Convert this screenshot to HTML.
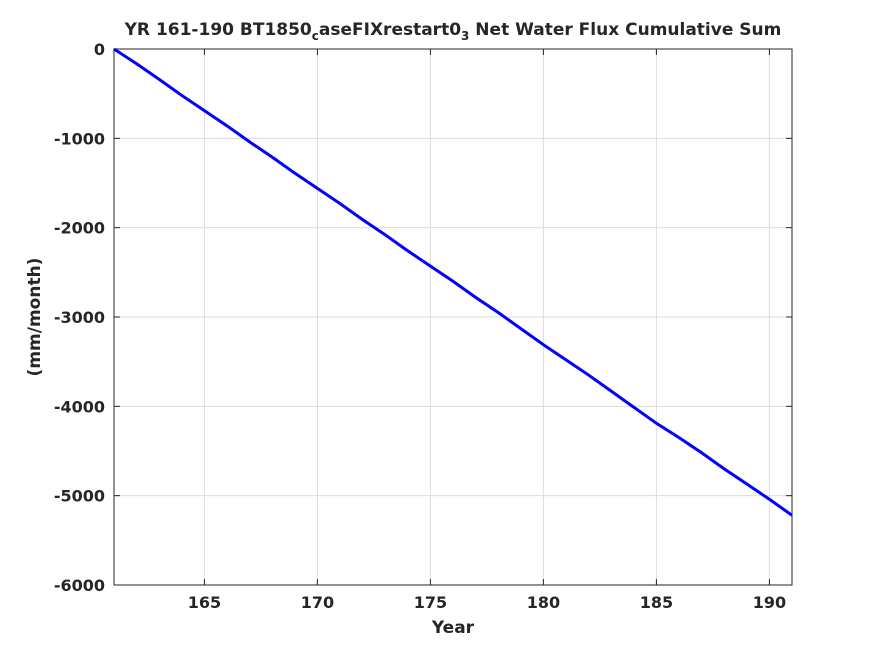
<!DOCTYPE html>
<html><head><meta charset="utf-8"><style>
body{margin:0;background:#fff;}
svg text{font-family:"DejaVu Sans","Liberation Sans",sans-serif;font-weight:bold;fill:#262626;}
</style></head><body>
<svg id="chart" width="875" height="656" xmlns="http://www.w3.org/2000/svg">
<rect width="875" height="656" fill="#fff"/>
<g id="grid"></g>
<g id="axes"></g>
<polyline id="line" fill="none" stroke="#0000ff" stroke-width="3"/>
<text x="453" y="35" font-size="17" text-anchor="middle">YR 161-190 BT1850<tspan font-size="12" dy="5">c</tspan><tspan dy="-5">aseFIXrestart0</tspan><tspan font-size="12" dy="5">3</tspan><tspan dy="-5"> Net Water Flux Cumulative Sum</tspan></text>
<text x="453" y="633" font-size="17" text-anchor="middle">Year</text>
<text x="40" y="317" font-size="17" text-anchor="middle" transform="rotate(-90 40 317)">(mm/month)</text>
</svg>
<script>
const years=[161,162,163,164,165,166,167,168,169,170,171,172,173,174,175,176,177,178,179,180,181,182,183,184,185,186,187,188,189,190,191];
const values=[0,-165,-340,-520,-690,-860,-1040,-1210,-1390,-1560,-1730,-1910,-2080,-2260,-2430,-2600,-2780,-2950,-3130,-3310,-3480,-3650,-3830,-4010,-4190,-4350,-4520,-4700,-4870,-5040,-5220];
const xTicks=[165,170,175,180,185,190];
const yTicks=[0,-1000,-2000,-3000,-4000,-5000,-6000];
const L=114,R=792,T=49,B=585;
const xs=v=>L+(v-161)/(191-161)*(R-L);
const ys=v=>T+(0-v)/6000*(B-T);
const NS="http://www.w3.org/2000/svg";
const grid=document.getElementById('grid'),axes=document.getElementById('axes');
function mk(tag,attrs,parent){const e=document.createElementNS(NS,tag);for(const k in attrs)e.setAttribute(k,attrs[k]);parent.appendChild(e);return e;}
xTicks.forEach(t=>{const x=xs(t);
 const g=mk('line',{x1:x,x2:x,y1:T,y2:B,stroke:'#dcdcdc','stroke-width':1},grid);
 
 
 mk('line',{x1:x,x2:x,y1:B,y2:B-6,stroke:'#262626'},axes);
 mk('line',{x1:x,x2:x,y1:T,y2:T+6,stroke:'#262626'},axes);
 const tx=mk('text',{x:x,y:B+23,'font-size':16,'text-anchor':'middle'},axes);tx.textContent=t;
 
 
});
yTicks.forEach(t=>{const y=ys(t);
 const g=mk('line',{x1:L,x2:R,y1:y,y2:y,stroke:'#dcdcdc','stroke-width':1},grid);
 
 
 mk('line',{x1:L,x2:L+6,y1:y,y2:y,stroke:'#262626'},axes);
 mk('line',{x1:R,x2:R-6,y1:y,y2:y,stroke:'#262626'},axes);
 const tx=mk('text',{x:L-9,y:y+6,'font-size':16,'text-anchor':'end'},axes);tx.textContent=t;
 
 
});
const box=mk('rect',{x:L,y:T,width:R-L,height:B-T,fill:'none',stroke:'#262626','stroke-width':1},axes);


document.getElementById('line').setAttribute('points',years.map((y,i)=>xs(y)+','+ys(values[i])).join(' '));
</script>
</body></html>
